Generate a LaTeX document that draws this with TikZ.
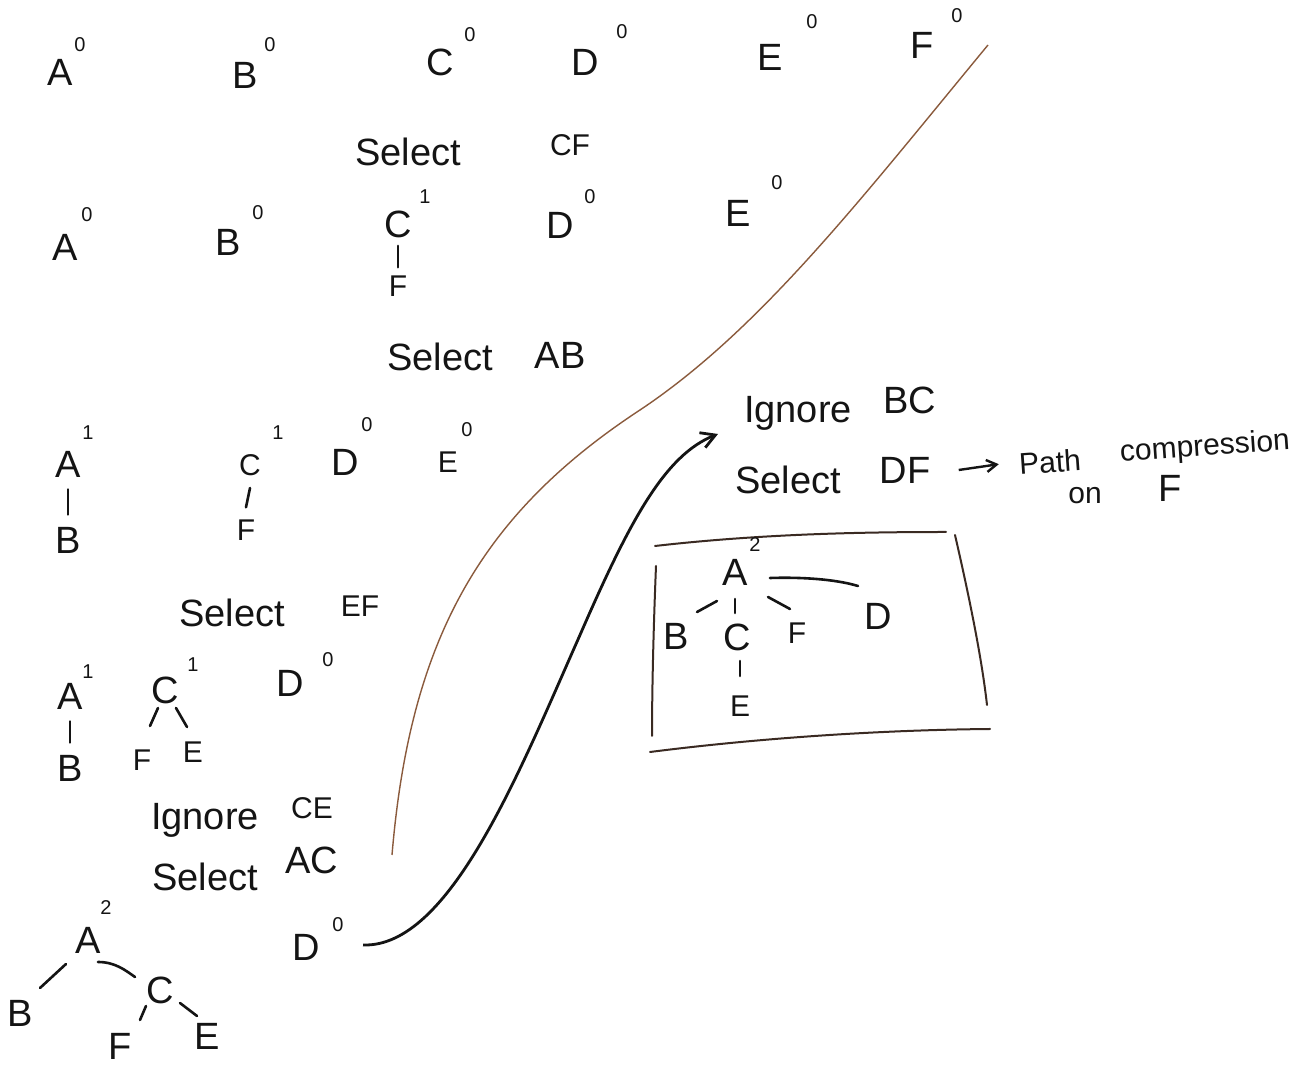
\documentclass[tikz,border=0pt]{standalone}
\usepackage{fontspec}
\setmainfont{Liberation Sans}
\usetikzlibrary{arrows.meta}
\definecolor{ink}{HTML}{141414}
\definecolor{brownline}{HTML}{8A5A3C}
\definecolor{boxline}{HTML}{3A2A22}
\tikzset{
  lt/.style={font=\fontsize{19}{22}\selectfont, text=ink, inner sep=0pt},
  sm/.style={font=\fontsize{15}{18}\selectfont, text=ink, inner sep=0pt},
  sp/.style={font=\fontsize{10}{12}\selectfont, text=ink, inner sep=0pt},
  lbl/.style={font=\fontsize{19}{22}\selectfont, text=ink, inner sep=0pt},
  tl/.style={draw=ink, line width=1.3pt, line cap=round},
  sep/.style={draw=brownline, line width=0.7pt},
  boxl/.style={draw=boxline, line width=1pt, line cap=round},
}
\begin{document}
\begin{tikzpicture}[x=0.5pt, y=-0.5pt]
\useasboundingbox (0,0) rectangle (1303,1068);
\fill[white] (0,0) rectangle (1303,1068);

% ---- Row 1
\node[lt] (r1a) at (60,72) {A};   \node[sp] (r1as) at (80,45) {0};
\node[lt] (r1b) at (245,75) {B};  \node[sp] (r1bs) at (270,45) {0};
\node[lt] (r1c) at (440,62) {C};  \node[sp] (r1cs) at (470,35) {0};
\node[lt] (r1d) at (585,62) {D};  \node[sp] (r1ds) at (622,32) {0};
\node[lt] (r1e) at (770,57) {E};  \node[sp] (r1es) at (812,22) {0};
\node[lt] (r1f) at (922,45) {F};  \node[sp] (r1fs) at (957,16) {0};

\node[lbl] (s1) at (408,152) {Select};
\node[sm] (s1x) at (570,145) {CF};

% ---- Row 2
\node[lt] (r2a) at (65,247) {A};  \node[sp] (r2as) at (87,215) {0};
\node[lt] (r2b) at (228,242) {B}; \node[sp] (r2bs) at (258,213) {0};
\node[lt] (r2c) at (398,224) {C}; \node[sp] (r2cs) at (425,197) {1};
\node[sm] (r2f) at (398,286) {F};
\draw[tl] ([yshift=-4]r2c.south) -- ([yshift=4]r2f.north);
\node[lt] (r2d) at (560,225) {D}; \node[sp] (r2ds) at (590,197) {0};
\node[lt] (r2e) at (738,213) {E}; \node[sp] (r2es) at (777,183) {0};

\node[lbl] (s2) at (440,357) {Select};
\node[lt] (s2x) at (560,355) {AB};

% ---- Row 3
\node[lt] (r3a) at (68,464) {A};  \node[sp] (r3as) at (88,433) {1};
\node[lt] (r3b) at (68,540) {B};
\draw[tl] ([yshift=-6]r3a.south) -- ([yshift=6]r3b.north);
\node[sm] (r3c) at (250,465) {C}; \node[sp] (r3cs) at (278,433) {1};
\node[sm] (r3f) at (246,530) {F};
\draw[tl] ([yshift=-6]r3c.south) -- ([yshift=6]r3f.north);
\node[lt] (r3d) at (345,462) {D}; \node[sp] (r3ds) at (367,425) {0};
\node[sm] (r3e) at (448,462) {E}; \node[sp] (r3es) at (467,430) {0};

\node[lbl] (s3) at (232,613) {Select};
\node[sm] (s3x) at (360,606) {EF};

% ---- Row 4
\node[lt] (r4a) at (70,696) {A};  \node[sp] (r4as) at (88,672) {1};
\node[lt] (r4b) at (70,768) {B};
\draw[tl] ([yshift=-6]r4a.south) -- ([yshift=6]r4b.north);
\node[lt] (r4c) at (165,690) {C}; \node[sp] (r4cs) at (193,665) {1};
\node[sm] (r4f) at (142,760) {F};
\node[sm] (r4e) at (193,752) {E};
\coordinate (r4cf1) at (158,708); \coordinate (r4cf2) at (150,726);
\coordinate (r4ce1) at (176,708); \coordinate (r4ce2) at (187,727);
\draw[tl] (r4cf1) -- (r4cf2);
\draw[tl] (r4ce1) -- (r4ce2);
\node[lt] (r4d) at (290,683) {D}; \node[sp] (r4ds) at (328,660) {0};

\node[lbl] (s4) at (205,820) {Ignore};
\node[sm] (s4x) at (312,808) {CE};
\node[lbl] (s5) at (205,877) {Select};
\node[lt] (s5x) at (312,860) {AC};

% ---- Bottom tree
\node[lt] (t1a) at (88,940) {A};  \node[sp] (t1as) at (106,908) {2};
\node[lt] (t1b) at (20,1013) {B};
\node[lt] (t1c) at (160,990) {C};
\node[lt] (t1f) at (120,1046) {F};
\node[lt] (t1e) at (207,1036) {E};
\coordinate (tab1) at (66,964);  \coordinate (tab2) at (40,988);
\coordinate (tac1) at (98,962);  \coordinate (tac2) at (135,977);
\coordinate (tcf1) at (146,1006); \coordinate (tcf2) at (140,1020);
\coordinate (tce1) at (180,1003); \coordinate (tce2) at (197,1016);
\draw[tl] (tab1) -- (tab2);
\draw[tl] (tac1) .. controls (115,962) and (125,970) .. (tac2);
\draw[tl] (tcf1) -- (tcf2);
\draw[tl] (tce1) -- (tce2);
\node[lt] (t1d) at (306,947) {D}; \node[sp] (t1ds) at (338,925) {0};

% ---- Separator line (thin brown)
\coordinate (sepA) at (988,45);
\coordinate (sepB) at (392,855);
\draw[sep] (sepA) .. controls (860,200) and (760,330) .. (640,410)
                 .. controls (480,515) and (410,640) .. (sepB);

% ---- Arrow from D0 to right column
\coordinate (arS) at (363,945);
\coordinate (arE) at (718,434);
\draw[draw=ink, line width=1.4pt, -{Straight Barb[length=7pt,width=8pt]}]
  (arS) .. controls (450,948) and (520,770) .. (580,635)
        .. controls (630,520) and (665,455) .. (arE);

% ---- Right column text
\node[lbl] (i2) at (798,413) {Ignore};
\node[lt] (i2x) at (910,400) {BC};
\node[lbl] (s6) at (788,480) {Select};
\node[lt] (s6x) at (905,470) {DF};
\node[sm, rotate=4] (pc1) at (1050,462) {Path};
\node[sm, rotate=4] (pc2) at (1205,448) {compression};
\node[sm] (pc3) at (1085,496) {on};
\node[lt] (pc4) at (1170,488) {F};
\draw[draw=ink, line width=1.2pt, -{Straight Barb[length=5pt,width=6pt]}] ([xshift=14]s6x.east) -- ([xshift=-10]pc1.west);

% ---- Box
\draw[boxl] (655,546) .. controls (760,534) and (860,532) .. (946,532);
\draw[boxl] (656,566) .. controls (653,640) and (652,700) .. (652,736);
\draw[boxl] (955,535) .. controls (970,600) and (982,660) .. (987,705);
\draw[boxl] (650,752) .. controls (760,738) and (880,730) .. (990,729);

% ---- Box tree
\node[lt] (b1a) at (735,572) {A}; \node[sp] (b1as) at (755,545) {2};
\node[lt] (b1b) at (676,636) {B};
\node[lt] (b1c) at (737,637) {C};
\node[sm] (b1f) at (797,633) {F};
\node[lt] (b1d) at (878,616) {D};
\node[sm] (b1e) at (740,706) {E};
\coordinate (bab1) at (697,612); \coordinate (bab2) at (717,601);
\coordinate (bac1) at (735,599); \coordinate (bac2) at (735,613);
\coordinate (baf1) at (768,597); \coordinate (baf2) at (790,609);
\coordinate (bce1) at (740,661); \coordinate (bce2) at (740,676);
\coordinate (bad1) at (770,578); \coordinate (bad2) at (858,586);
\draw[tl] (bad1) .. controls (800,577) and (835,579) .. (bad2);
\draw[tl] (bab1) -- (bab2);
\draw[tl] (bac1) -- (bac2);
\draw[tl] (baf1) -- (baf2);
\draw[tl] (bce1) -- (bce2);
\end{tikzpicture}
\end{document}
